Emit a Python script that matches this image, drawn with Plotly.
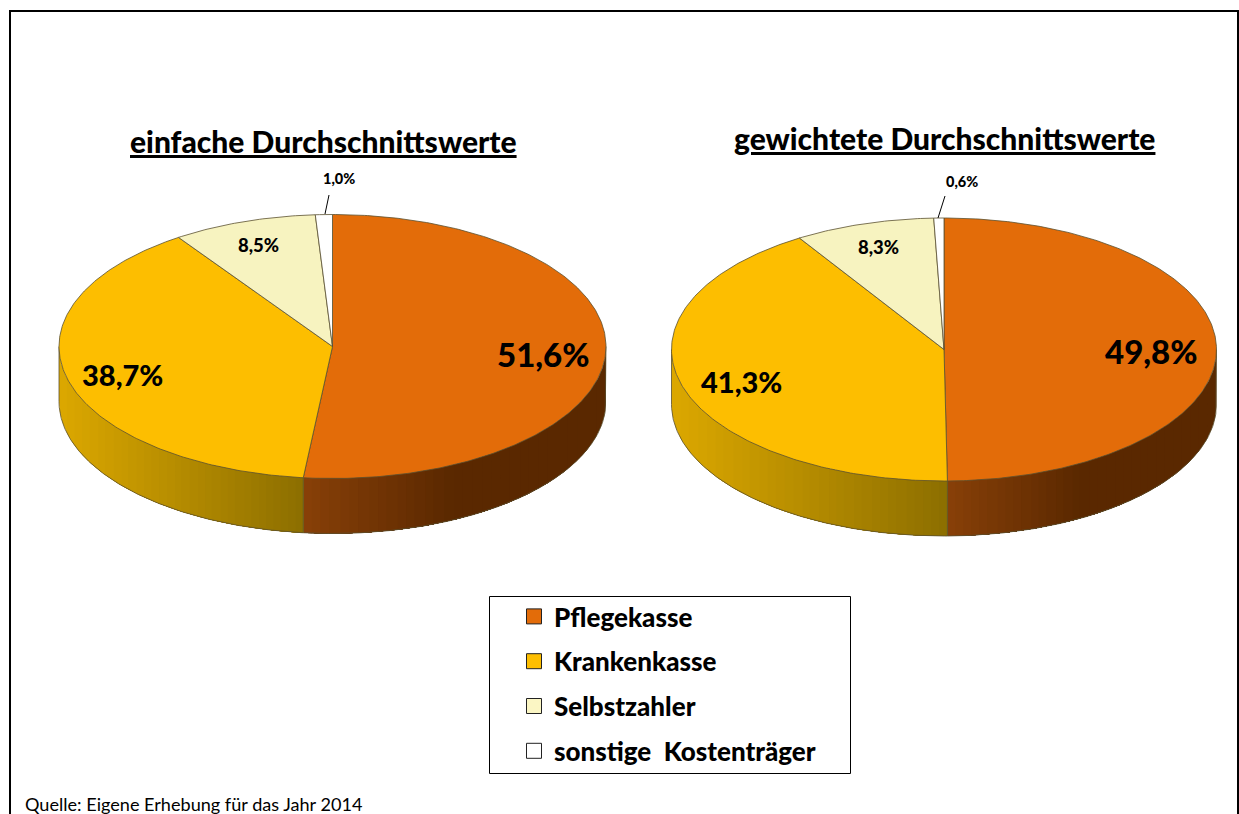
import numpy as np
import plotly.graph_objects as go

categories = ["Pflegekasse", "Krankenkasse", "Selbstzahler", "sonstige  Kostenträger"]
values_simple = [51.6, 38.7, 8.5, 1.0]
values_weighted = [49.8, 41.3, 8.3, 0.6]
titles = ["einfache Durchschnittswerte", "gewichtete Durchschnittswerte"]
source_note = "Quelle: Eigene Erhebung für das Jahr 2014"

top_colors = ["#E36C09", "#FDBE00", "#F7F3C0", "#FFFFFF"]
legend_colors = ["#E36C09", "#FDBE00", "#FBF6C4", "#FFFFFF"]
# side shading per slice: (start colour, end colour, fraction at which end colour is reached)
side_shade = {0: ((136, 64, 8), (90, 40, 0), 0.5), 1: ((220, 168, 0), (140, 110, 0), 1.0)}

EDGE = "#5A5030"
FONT = "Lato"
W, H = 1239, 814
DEPTH = 55

fig = go.Figure()


def pt(geo, theta_deg):
    cx, cy, rx, ry = geo
    t = np.radians(theta_deg)
    return cx + rx * np.sin(t), cy - ry * np.cos(t)


def lerp(a, b, t):
    t = min(max(t, 0.0), 1.0)
    return "rgb(%d,%d,%d)" % tuple(round(a[i] + (b[i] - a[i]) * t) for i in range(3))


def draw_pie(values, geo):
    total = sum(values)
    edges = np.concatenate([[0], np.cumsum(values) / total * 360])
    for i in range(len(values)):
        a0, a1 = max(edges[i], 90), min(edges[i + 1], 270)
        if a1 <= a0 or i not in side_shade:
            continue
        c0, c1, reach = side_shade[i]
        xa, _ = pt(geo, a0)
        xb, _ = pt(geo, a1)
        xlo, xhi = min(xa, xb), max(xa, xb)
        n = 32
        # x-spaced bands, painted so that each one overlaps the next and no seam shows
        if i == 0:
            band_edges = np.linspace(xhi, xlo, n + 1)   # paint from the dark right end leftwards
        else:
            band_edges = np.linspace(xlo, xhi, n + 1)   # paint from the left end rightwards
        sub = np.linspace(a0, a1, 160)
        xs, ys = pt(geo, sub)
        for k in range(n):
            xm = (band_edges[k] + band_edges[k + 1]) / 2
            t = (xm - xlo) / (xhi - xlo) / reach
            col = lerp(c0, c1, t)
            if i == 0:
                mask = xs <= band_edges[k]
            else:
                mask = xs >= band_edges[k]
            if mask.sum() < 2:
                continue
            mx, my = xs[mask], ys[mask]
            fig.add_trace(go.Scatter(x=np.concatenate([mx, mx[::-1], mx[:1]]),
                                     y=np.concatenate([my, my[::-1] + DEPTH, my[:1]]),
                                     mode="lines", fill="toself", fillcolor=col,
                                     line=dict(width=0), hoverinfo="skip", showlegend=False))
        fig.add_trace(go.Scatter(x=np.concatenate([xs[:1], xs, xs[-1:]]),
                                 y=np.concatenate([ys[:1], ys + DEPTH, ys[-1:]]),
                                 mode="lines", line=dict(color=EDGE, width=0.8),
                                 hoverinfo="skip", showlegend=False))
    for i in range(len(values)):
        sub = np.linspace(edges[i], edges[i + 1], max(4, int((edges[i + 1] - edges[i]) * 1.5)))
        xs, ys = pt(geo, sub)
        fig.add_trace(go.Scatter(x=np.concatenate([[geo[0]], xs, [geo[0]]]),
                                 y=np.concatenate([[geo[1]], ys, [geo[1]]]),
                                 mode="lines", fill="toself", fillcolor=top_colors[i],
                                 line=dict(color=EDGE, width=0.8), name=categories[i],
                                 showlegend=False))


draw_pie(values_simple, (332.5, 346.5, 273.5, 132))
draw_pie(values_weighted, (944, 349.5, 272.5, 131.5))

for name, col in zip(categories, legend_colors):
    fig.add_trace(go.Scatter(x=[None], y=[None], mode="markers", name=name, legendgroup=name,
                             marker=dict(symbol="square", size=15, color=col,
                                         line=dict(color="#222", width=1))))


def label(x, y, text, size):
    fig.add_annotation(x=x, y=y, text=text, showarrow=False,
                       font=dict(family=FONT, size=size, color="black", weight=900),
                       xanchor="center", yanchor="middle")


def pct(v):
    return f"{v:.1f}".replace(".", ",") + "%"


sizes = [33, 29, 18.5, 14.5]
for (xc, yc), v, s in zip([(543, 354), (122, 374), (258, 245), (339, 178)], values_simple, sizes):
    label(xc, yc, pct(v), s)
for (xc, yc), v, s in zip([(1151, 351), (741, 381), (878, 247), (962, 181)], values_weighted, sizes):
    label(xc, yc, pct(v), s)

for (xc, yc), t in zip([(323, 141), (944, 138)], titles):
    fig.add_annotation(x=xc, y=yc, text=t, showarrow=False,
                       font=dict(family=FONT, size=30, color="black", lineposition="under", weight=900),
                       xanchor="center", yanchor="middle")

fig.add_annotation(x=23, y=804, text=source_note, showarrow=False, xanchor="left", yanchor="middle",
                   font=dict(family=FONT, size=18.1, color="black"))

shapes = [
    dict(type="rect", x0=10, y0=11, x1=1238, y1=840, line=dict(color="black", width=2)),
    dict(type="rect", x0=489.5, y0=596.5, x1=850.5, y1=773.5, line=dict(color="black", width=1),
         fillcolor="white"),
    dict(type="line", x0=329, y0=195, x1=325, y1=214, line=dict(color="black", width=1)),
    dict(type="line", x0=945, y0=196, x1=938, y1=218, line=dict(color="black", width=1)),
]

fig.update_layout(
    width=W, height=H, margin=dict(l=0, r=0, t=0, b=0),
    paper_bgcolor="white", plot_bgcolor="white", shapes=shapes,
    xaxis=dict(range=[0, W], visible=False, fixedrange=True),
    yaxis=dict(range=[H, 0], visible=False, fixedrange=True),
    legend=dict(x=489 / W, y=1 - 593 / H, xanchor="left", yanchor="top",
                borderwidth=0, bgcolor="rgba(0,0,0,0)",
                font=dict(family=FONT, size=26, color="black", weight=900),
                tracegroupgap=8, itemsizing="trace", indentation=25),
    showlegend=True,
)

fig.write_html("out.html", config={"displayModeBar": False},
               post_script="document.body.style.margin='0';document.body.style.overflow='hidden';")
